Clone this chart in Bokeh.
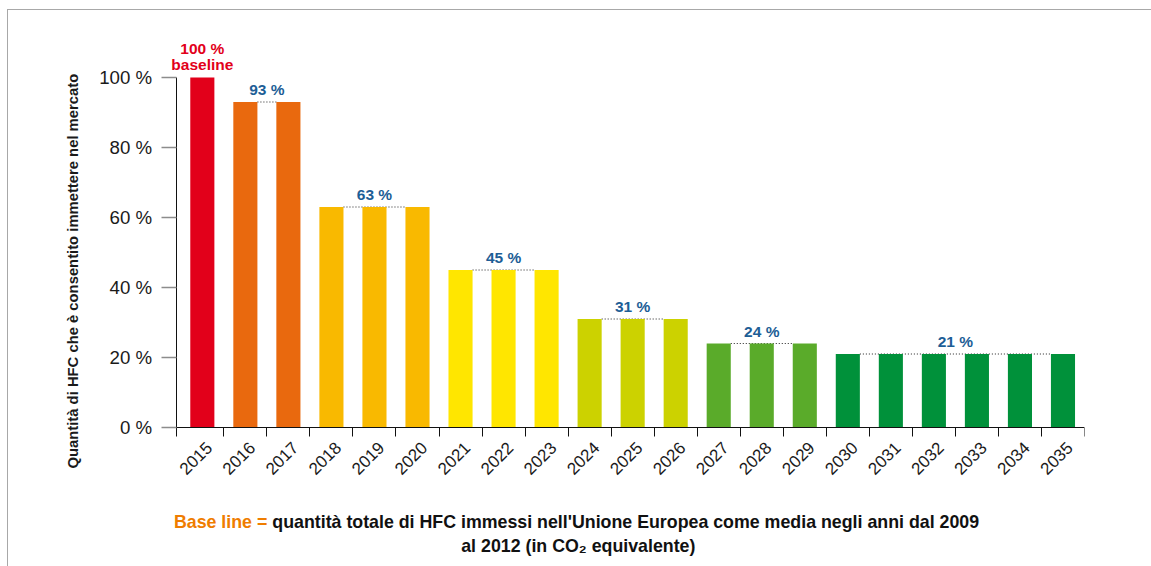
import math
from bokeh.plotting import figure
from bokeh.models import Range1d, FixedTicker, LabelSet, Label, ColumnDataSource, Title
from bokeh.core.properties import value
from bokeh.embed import file_html
from bokeh.resources import INLINE

# ---- data ----
years = ["2015", "2016", "2017", "2018", "2019", "2020", "2021", "2022", "2023",
         "2024", "2025", "2026", "2027", "2028", "2029", "2030", "2031", "2032",
         "2033", "2034", "2035"]
values = [100, 93, 93, 63, 63, 63, 45, 45, 45, 31, 31, 31, 24, 24, 24,
          21, 21, 21, 21, 21, 21]
bar_colors = ["#e2001a", "#e9690e", "#e9690e", "#f9b900", "#f9b900", "#f9b900",
              "#ffe600", "#ffe600", "#ffe600", "#ccd200", "#ccd200", "#ccd200",
              "#5aab2a", "#5aab2a", "#5aab2a", "#00913a", "#00913a", "#00913a",
              "#00913a", "#00913a", "#00913a"]
group_first = [1, 3, 6, 9, 12, 15]
group_last = [2, 5, 8, 11, 14, 20]
group_labels = ["93 %", "63 %", "45 %", "31 %", "24 %", "21 %"]
y_ticks = [0, 20, 40, 60, 80, 100]
y_tick_labels = ["0 %", "20 %", "40 %", "60 %", "80 %", "100 %"]

BAR_W = 0.56
FONT = "Liberation Sans"
X_START = -0.107   # position of the y axis
X_LEFT = -2.122    # left edge of the plotting frame

xs = [i + 0.5 for i in range(len(years))]

p = figure(width=1143, height=556, output_backend="svg", toolbar_location=None,
           x_range=Range1d(X_LEFT, 21), y_range=Range1d(-36.857, 112),
           min_border_left=81, min_border_top=25, min_border_right=67,
           min_border_bottom=10)
p.styles = {"margin-left": "8px", "margin-top": "10px",
            "outline": "1.5px solid #a8a8a8"}
p.outline_line_color = None
p.xgrid.visible = False
p.ygrid.visible = False
p.background_fill_color = "white"
p.border_fill_color = "white"

# dotted connectors
gsrc = ColumnDataSource(dict(
    x0=[xs[a] + BAR_W / 2 for a in group_first],
    x1=[xs[b] - BAR_W / 2 for b in group_last],
    y=[values[a] for a in group_first],
    xm=[(xs[a] + xs[b]) / 2 for a, b in zip(group_first, group_last)],
    lab=group_labels,
))
p.segment(x0="x0", y0="y", x1="x1", y1="y", source=gsrc, line_color="#222222",
          line_width=1, line_dash="1 2")

src = ColumnDataSource(dict(x=xs, top=values, color=bar_colors, year=years,
                            zero=[0] * len(xs)))
p.vbar(x="x", top="top", width=BAR_W, bottom=0, fill_color="color",
       line_color=None, source=src)

# group labels
p.add_layout(LabelSet(x="xm", y="y", text="lab", source=gsrc, text_align="center",
                      text_baseline="alphabetic", y_offset=7,
                      text_font=value(FONT), text_font_style="bold",
                      text_font_size="15.5px", text_color="#1d5e96"))
# baseline labels
p.add_layout(Label(x=xs[0], y=values[0], text="baseline", text_align="center",
                   text_baseline="alphabetic", y_offset=13, text_font=FONT,
                   text_font_style="bold", text_font_size="15.5px", text_color="#e2001a"))
p.add_layout(Label(x=xs[0], y=values[0], text="100 %", text_align="center",
                   text_baseline="alphabetic", y_offset=29, text_font=FONT,
                   text_font_style="bold", text_font_size="15.5px", text_color="#e2001a"))

# year labels (rotated 45 degrees)
p.add_layout(LabelSet(x="x", y="zero", text="year", source=src, angle=math.pi / 4,
                      text_align="right", text_baseline="alphabetic",
                      x_offset=11, y_offset=-21.5,
                      text_font=value(FONT), text_font_size="17px",
                      text_color="#1a1a1a"))

# x axis at y = 0
xa = p.xaxis[0]
xa.fixed_location = 0
xa.bounds = (X_START, 21)
xa.ticker = FixedTicker(ticks=[], minor_ticks=[X_START] + list(range(1, 22)))
xa.major_tick_line_color = None
xa.minor_tick_line_color = "#111111"
xa.minor_tick_out = 9
xa.minor_tick_in = 0
xa.axis_line_color = "#111111"
xa.major_label_standoff = 0

# y axis at X_START
ya = p.yaxis[0]
ya.fixed_location = X_START
ya.bounds = (0, 100)
ya.ticker = FixedTicker(ticks=y_ticks)
ya.major_label_overrides = {t: l for t, l in zip(y_ticks, y_tick_labels)}
ya.major_tick_out = 15
ya.major_tick_in = 0
ya.major_tick_line_color = "#8c8c8c"
ya.major_tick_line_width = 1.5
ya.minor_tick_line_color = None
ya.axis_line_color = "#111111"
ya.major_label_standoff = 9
ya.major_label_text_font = FONT
ya.major_label_text_font_size = "18.7px"
ya.major_label_text_color = "#1a1a1a"

p.add_layout(Title(text="Quantità di HFC che è consentito immettere nel mercato",
                   align="left", offset=88, standoff=18, text_font=FONT,
                   text_font_style="bold", text_font_size="14.8px",
                   text_color="#1a1a1a"), "left")

# footnote
FS = "17.8px"
p.add_layout(Label(x=0, y=0, x_offset=86.5, y_offset=-94,
                   text="Base line =", text_align="right", text_baseline="alphabetic",
                   text_font=FONT, text_font_style="bold", text_font_size=FS,
                   text_color="#ef7d00"))
p.add_layout(Label(x=0, y=0, x_offset=91.5, y_offset=-94,
                   text="quantità totale di HFC immessi nell'Unione Europea come media negli anni dal 2009",
                   text_align="left", text_baseline="alphabetic",
                   text_font=FONT, text_font_style="bold", text_font_size=FS,
                   text_color="#111111"))
p.add_layout(Label(x=0, y=0, x_offset=397.5, y_offset=-118,
                   text="al 2012 (in CO\u2082 equivalente)",
                   text_align="center", text_baseline="alphabetic",
                   text_font=FONT, text_font_style="bold", text_font_size=FS,
                   text_color="#111111"))

open("out.html", "w").write(file_html(p, INLINE))
